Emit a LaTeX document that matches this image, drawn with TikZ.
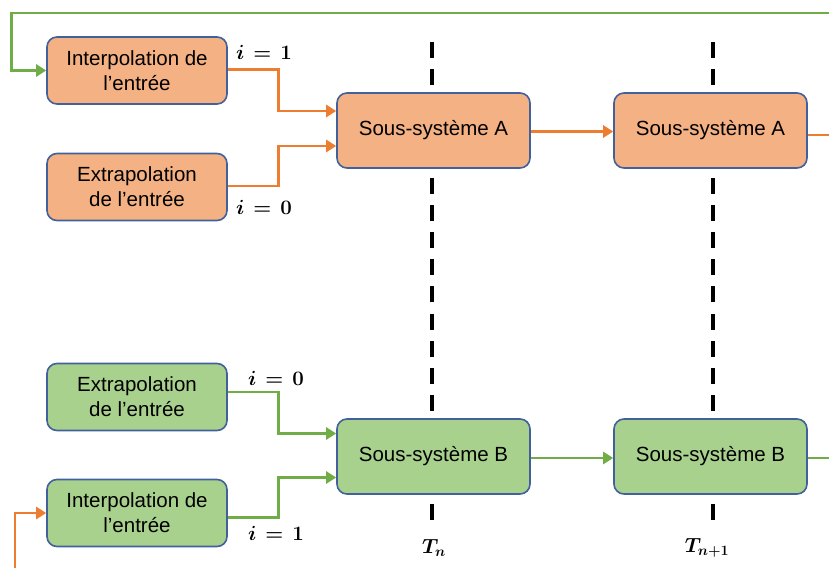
\RequirePackage{fix-cm}
\documentclass[tikz,border=0pt]{standalone}
\usepackage{amsmath}
\usepackage{bm}
\usepackage{fontspec}
\newfontfamily\arialfont{Liberation Sans}
\usepackage{tikz}
\usetikzlibrary{positioning, arrows.meta}

\definecolor{orangefill}{HTML}{F4B183}
\definecolor{orangeline}{HTML}{ED7D31}
\definecolor{greenfill}{HTML}{A9D18E}
\definecolor{greenline}{HTML}{70AD47}
\definecolor{boxborder}{HTML}{41609C}

\tikzset{
    blk/.style={draw=boxborder, line width=1.6pt, rounded corners=10pt, align=center,
        inner sep=0pt, font=\arialfont\fontsize{20.5}{25}\selectfont},
    entree/.style={blk, minimum width=180pt, minimum height=67pt},
    soussys/.style={blk, minimum width=193pt, minimum height=75pt},
    oarrow/.style={orangeline, line width=2.8pt, -{Triangle[length=10pt,width=12pt]}},
    garrow/.style={greenline, line width=2.8pt, -{Triangle[length=10pt,width=12pt]}},
    tline/.style={black, line width=4pt, dash pattern=on 16pt off 11.2pt},
    lbl/.style={font=\fontsize{20.5}{24}\selectfont}
}

\begin{document}
\begin{tikzpicture}[x=1pt, y=1pt]
    \useasboundingbox (0,0) rectangle (829,568);
    \draw[tline] (432,48) -- (432,527);
    \draw[tline] (713,48) -- (713,527);

    \node[entree, fill=orangefill] (ia) at (137,497.5) {Interpolation de\\l’entrée};
    \node[entree, fill=orangefill] (ea) at (137,381) {Extrapolation\\de l’entrée};
    \node[soussys, fill=orangefill] (sa1) at (433.5,437.5) {Sous-système A};
    \node[soussys, fill=orangefill] (sa2) at (710.5,437.5) {Sous-système A};

    \node[entree, fill=greenfill] (eb) at (137,171) {Extrapolation\\de l’entrée};
    \node[entree, fill=greenfill] (ib) at (137,55) {Interpolation de\\l’entrée};
    \node[soussys, fill=greenfill] (sb1) at (433.5,111.5) {Sous-système B};
    \node[soussys, fill=greenfill] (sb2) at (710.5,111.5) {Sous-système B};

    \coordinate (fbA) at (829,555);
    \coordinate (fbB) at (15,0);
    \coordinate (outA) at (829,433);
    \coordinate (outB) at (829,110);

    \draw[oarrow] ([yshift=1pt]ia.east) -- ++(51,0) |- ([yshift=19.5pt]sa1.west);
    \draw[oarrow] ([yshift=1pt]ea.east) -- ++(51,0) |- ([yshift=-15.5pt]sa1.west);
    \draw[oarrow] ([yshift=-1pt]sa1.east) -- ([yshift=-1pt]sa2.west);
    \draw[orangeline, line width=2.8pt] ([yshift=-4.5pt]sa2.east) -- (outA);
    \draw[garrow] (fbA) -| ([xshift=-35pt]ia.west) -- (ia.west);

    \draw[garrow] ([yshift=5pt]eb.east) -- ++(51,0) |- ([yshift=23pt]sb1.west);
    \draw[garrow] ([yshift=-4.5pt]ib.east) -- ++(51,0) |- ([yshift=-21pt]sb1.west);
    \draw[garrow] ([yshift=-1.5pt]sb1.east) -- ([yshift=-1.5pt]sb2.west);
    \draw[greenline, line width=2.8pt] ([yshift=-1.5pt]sb2.east) -- (outB);
    \draw[oarrow] (fbB) |- (ib.west);

    \node[lbl] (iA1) at (264,516) {$\bm{i\,=\,1}$};
    \node[lbl] (iA0) at (264,361) {$\bm{i\,=\,0}$};
    \node[lbl] (iB0) at (276,190) {$\bm{i\,=\,0}$};
    \node[lbl] (iB1) at (276,35) {$\bm{i\,=\,1}$};
    \node[lbl] (tn) at (434,20) {$\bm{T_n}$};
    \node[lbl] (tn1) at (707,20) {$\bm{T_{n+1}}$};
\end{tikzpicture}
\end{document}
